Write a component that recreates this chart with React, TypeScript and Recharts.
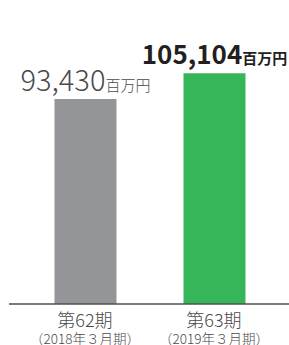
import React from 'react';
import { BarChart, Bar, XAxis, YAxis, Cell, LabelList } from 'recharts';

const periods = ['第62期', '第63期'];
const subLabels = ['（2018年３月期）', '（2019年３月期）'];
const sales = [93430, 105104];
const unit = '百万円';

const COLORS = ['#939598', '#36b658'];

const data = periods.map((p, i) => ({ name: p, sub: subLabels[i], value: sales[i] }));

const FONT = '"Noto Sans CJK JP", "Noto Sans", sans-serif';

const Tick = (props: any) => {
  const { x, y, payload, index } = props;
  return (
    <g>
      <text x={x} y={y + 15} textAnchor="middle" fontFamily={FONT} fontWeight={300} fontSize={18} fill="#4a4a4a">
        {payload.value}
      </text>
      <text x={x} y={y + 32} textAnchor="middle" fontFamily={FONT} fontWeight={300} fontSize={13.5} fill="#4a4a4a">
        {subLabels[index]}
      </text>
    </g>
  );
};

const ValueLabel = (props: any) => {
  const { x, y, width, value, index } = props;
  const bold = index === 1;
  const text = value.toLocaleString('en-US');
  return (
    <text
      x={x + width / 2}
      y={y - (bold ? 9 : 8)}
      textAnchor="middle"
      fontFamily={FONT}
      fontWeight={bold ? 700 : 300}
      fill={bold ? '#231f20' : '#4a4a4a'}
    >
      <tspan fontSize={bold ? 26 : 29}>{text}</tspan>
      <tspan fontSize={15}>{unit}</tspan>
    </text>
  );
};

const App: React.FC = () => {
  return (
    <div style={{ position: 'absolute', left: 0, top: 0 }}>
      <BarChart
        width={289}
        height={345}
        data={data}
        margin={{ top: 40.6, right: 0, bottom: 0, left: 9 }}
        barSize={62}
      >
        <XAxis
          dataKey="name"
          height={41}
          padding={{ left: 11.5, right: 10.5 }}
          axisLine={{ stroke: '#505050', strokeWidth: 1.3 }}
          tickLine={false}
          tick={<Tick />}
          interval={0}
        />
        <YAxis hide domain={[0, 120000]} />
        <Bar dataKey="value" isAnimationActive={false}>
          {data.map((entry, index) => (
            <Cell key={`cell-${index}`} fill={COLORS[index]} />
          ))}
          <LabelList dataKey="value" content={<ValueLabel />} />
        </Bar>
      </BarChart>
    </div>
  );
};

export default App;
